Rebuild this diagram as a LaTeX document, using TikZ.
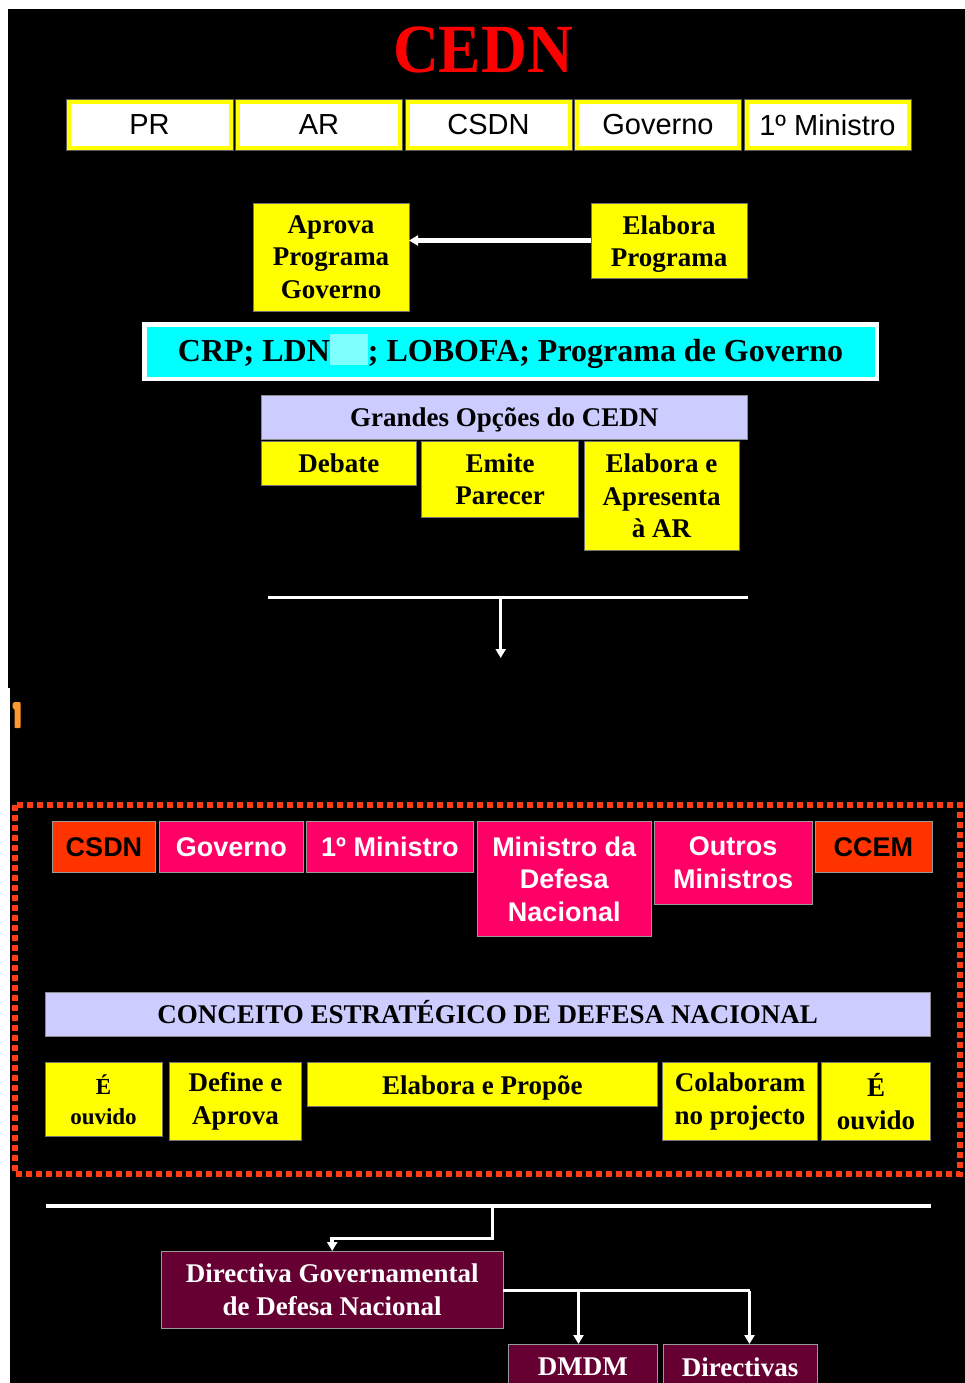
\documentclass[tikz,border=0pt]{standalone}
\usepackage{fontspec}
\setmainfont{Liberation Serif}
\setsansfont{Liberation Sans}
\newfontfamily\titlefont[FakeStretch=0.92]{Liberation Serif}
\usetikzlibrary{arrows.meta}

\definecolor{boxyellow}{RGB}{255,255,0}
\definecolor{boxcyan}{RGB}{0,255,255}
\definecolor{palecyan}{RGB}{128,255,255}
\definecolor{lavender}{RGB}{204,204,255}
\definecolor{hotpink}{RGB}{255,0,102}
\definecolor{flame}{RGB}{255,51,0}
\definecolor{maroon}{RGB}{102,0,51}
\definecolor{framered}{RGB}{255,60,20}
\definecolor{markorange}{RGB}{255,150,50}

\begin{document}
\begin{tikzpicture}[x=1pt,y=-1pt,
  serifbold/.style={font=\bfseries\fontsize{27}{32.5}\selectfont},
  sansplain/.style={font=\sffamily\fontsize{29}{33}\selectfont},
  sansbold/.style={font=\sffamily\bfseries\fontsize{27}{32.5}\selectfont},
  box/.style={anchor=north west, inner sep=2pt, outer sep=0pt, align=center},
  topbox/.style={anchor=center, inner sep=2pt, outer sep=0pt, align=center,
    minimum width=162pt, minimum height=46pt, fill=white, draw=boxyellow,
    line width=4pt, preaction={draw=black!65, line width=6pt}, sansplain, text=black},
  ybox/.style={box, fill=boxyellow, draw=black!55, line width=0.7pt, serifbold, text=black},
  lavbox/.style={box, fill=lavender, draw=black!45, line width=0.7pt, serifbold, text=black},
  pinkbox/.style={box, fill=hotpink, draw=black!40, line width=0.6pt, sansbold, text=white},
  flamebox/.style={box, fill=flame, draw=black!40, line width=0.6pt, sansbold, text=black},
  marbox/.style={box, fill=maroon, draw=black!40, line width=0.6pt, serifbold, text=white},
  cyanbox/.style={anchor=center, inner sep=0pt, outer sep=0pt, fill=boxcyan, draw=white,
    line width=4.5pt, font=\bfseries\fontsize{32}{36}\selectfont, text=black},
  bar/.style={draw=white, line width=3.5pt},
  conn/.style={draw=white, line width=3.5pt, -{Triangle[length=9pt,width=10pt]}},
]
\useasboundingbox (0,0) rectangle (965,1383);
\fill[white] (0,0) rectangle (965,1383);
% two dark panels
\fill[black] (8,9) rectangle (965,688);
\fill[black] (10,687) rectangle (965,1383);

% small orange glyph fragment at the left edge
\fill[markorange, rounded corners=0.8pt] (14,702) -- (20.5,702) -- (20.5,728) -- (14.5,728)
  -- (14.5,709) -- (12.5,708) -- (12.5,704) -- cycle;

% ---------------- upper panel ----------------
\node[font=\titlefont\bfseries\fontsize{69}{72}\selectfont, text={rgb,255:red,255;green,0;blue,0}, inner sep=0pt] (cedn) at (483,50) {CEDN};

\node[topbox] (pr)   at (149.5,125) {PR};
\node[topbox] (ar)   at (319,125)   {AR};
\node[topbox] (csdnA) at (488.5,125) {CSDN};
\node[topbox] (govA) at (658,125)   {Governo};
\node[topbox] (pmA)  at (827.5,125) {1º Ministro};

\node[ybox, minimum width=156pt, minimum height=108pt] (aprova) at (253,203) {Aprova\\Programa\\Governo};
\node[ybox, minimum width=156pt, minimum height=75pt] (elabprog) at (591,203) {\rule{0pt}{25.5pt}Elabora\\Programa};
\draw[conn, line width=4.5pt] (elabprog.west) -- (elabprog.west -| aprova.east);

\node[cyanbox, minimum width=732.5pt, minimum height=54.5pt] (base) at (510.5,351.5)
  {CRP; LDN{\color{palecyan}\rule[-4pt]{38pt}{31pt}}; LOBOFA; Programa de Governo};

\node[lavbox, minimum width=486.7pt, minimum height=44pt, text depth=0pt] (gopc) at (261,395) {Grandes Opções do CEDN};
\node[ybox, minimum width=154.3pt, minimum height=44pt] (debate) at (261.7,441) {Debate};
\node[ybox, minimum width=156.6pt, minimum height=76.7pt] (emite) at (421.7,441) {Emite\\Parecer};
\node[ybox, minimum width=155pt, minimum height=109.7pt] (elabapr) at (584,441) {Elabora e\\Apresenta\\à AR};

\coordinate (barAL) at (268.3,597.3);
\coordinate (barAR) at (747.7,597.3);
\coordinate (barAM) at (500.7,597.3);
\coordinate (barAE) at (500.7,658);
\draw[bar] (barAL) -- (barAR);
\draw[conn] (barAM) -- (barAE);

% ---------------- lower panel ----------------
\draw[framered, line width=6pt, dash pattern=on 6pt off 4pt] (15,805) rectangle (960,1174);

\node[flamebox, minimum width=103.4pt, minimum height=50.6pt] (csdnB) at (52.3,821.7) {CSDN};
\node[pinkbox, minimum width=144pt, minimum height=50.6pt] (govB) at (159.4,821.7) {Governo};
\node[pinkbox, minimum width=166.7pt, minimum height=50.6pt] (pmB) at (306.5,821.7) {1º Ministro};
\node[pinkbox, minimum width=173.5pt, minimum height=115pt] (mdn) at (477.5,821.7) {Ministro da\\Defesa\\Nacional};
\node[pinkbox, minimum width=158.3pt, minimum height=82.3pt] (outros) at (654,821.7) {Outros\\Ministros};
\node[flamebox, minimum width=117pt, minimum height=50.6pt] (ccem) at (814.8,821.7) {CCEM};

\node[lavbox, minimum width=885.5pt, minimum height=44pt, text height=18.4pt] (cedncon) at (45,992.7) {CONCEITO ESTRATÉGICO DE DEFESA NACIONAL};

\node[ybox, minimum width=117pt, minimum height=74pt, font=\bfseries\fontsize{23}{30}\selectfont] (ouvA) at (45,1062.7) {É\\ouvido};
\node[ybox, minimum width=132pt, minimum height=77.3pt] (defap) at (169.5,1062.7) {Define e\\Aprova};
\node[ybox, minimum width=349.3pt, minimum height=44pt, text depth=0pt] (elabprop) at (307.7,1062.7) {Elabora e Propõe};
\node[ybox, minimum width=154.4pt, minimum height=77.3pt] (colab) at (662.8,1062.7) {Colaboram\\no projecto};
\node[ybox, minimum width=109pt, minimum height=77.3pt] (ouvB) at (821.5,1062.7) {É\\ouvido};

\coordinate (barBL) at (46,1206);
\coordinate (barBR) at (930.5,1206);
\coordinate (barBM) at (492.3,1206);
\coordinate (barBK) at (492.3,1238.3);
\draw[bar] (barBL) -- (barBR);

\node[marbox, minimum width=342.4pt, minimum height=77.3pt] (dgdn) at (161,1251) {Directiva Governamental\\de Defesa Nacional};
\node[marbox, minimum width=149pt, minimum height=46pt] (dmdm) at (508.3,1344) {DMDM};
\node[marbox, minimum width=154.4pt, minimum height=46pt] (dirs) at (662.8,1344) {Directivas};

\draw[conn] (barBM) -- (barBK) -| (dgdn.north);

\coordinate (jA) at (578.5,1290.7);
\coordinate (jB) at (749.5,1290.7);
\draw[bar] (dgdn.east |- jA) -- (jB);
\draw[conn] (jA) -- (jA |- dmdm.north);
\draw[conn] (jB) -- (jB |- dirs.north);
\end{tikzpicture}
\end{document}
